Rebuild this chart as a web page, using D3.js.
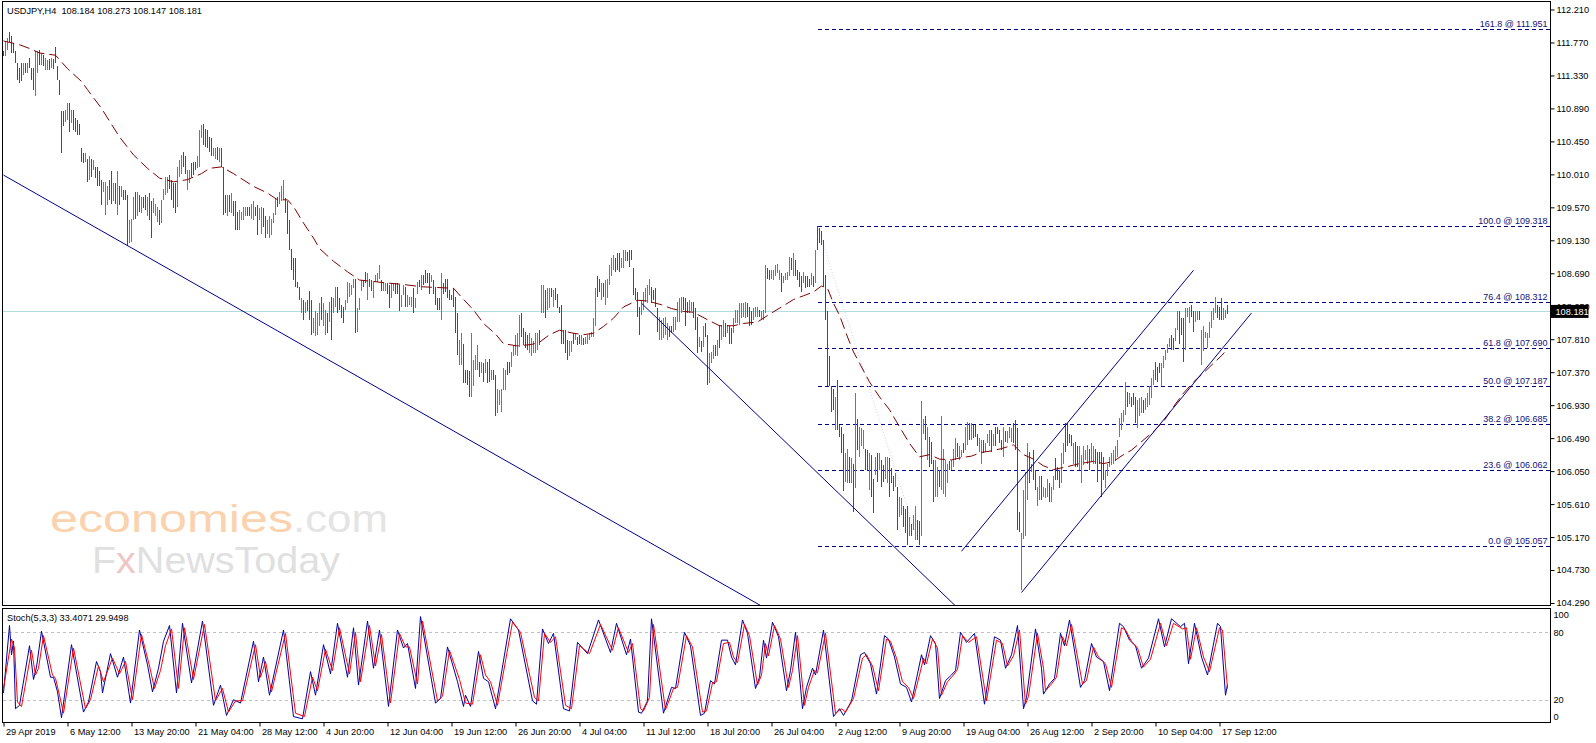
<!DOCTYPE html>
<html>
<head>
<meta charset="utf-8">
<script src="https://cdn.jsdelivr.net/npm/d3@7"></script>
<style>
  body { margin: 0; background: #fff; }
  svg text { font-family: "Liberation Sans", Arial, sans-serif; }
</style>
</head>
<body>
<svg id="chart" width="1596" height="743"></svg>
<script>
// ---- data ----
// H4 bars: [high, low] per bar, bar 0 = 29 Apr 2019 00:00
const hiLo = [
  [111.66,111.59],[111.79,111.59],[111.83,111.67],[111.91,111.78],[111.85,111.63],[111.76,111.63],[111.65,111.49],[111.49,111.27],[111.43,111.23],[111.49,111.25], // 0
  [111.49,111.34],[111.49,111.36],[111.50,111.36],[111.56,111.43],[111.43,111.27],[111.43,111.13],[111.65,111.05],[111.65,111.36],[111.67,111.47],[111.63,111.47], // 10
  [111.60,111.45],[111.56,111.40],[111.54,111.40],[111.55,111.40],[111.56,111.43],[111.55,111.41],[111.71,111.49],[111.46,111.27],[111.27,111.07],[110.86,110.29], // 20
  [110.85,110.65],[110.87,110.71],[110.96,110.74],[110.96,110.58],[110.87,110.69],[110.87,110.60],[110.76,110.58],[110.74,110.54],[110.68,110.54],[110.36,110.18], // 30
  [110.29,110.16],[110.29,110.18],[110.22,109.91],[110.25,109.94],[110.22,109.98],[110.20,110.07],[110.11,109.96],[110.11,109.85],[110.05,109.85],[109.94,109.60], // 40
  [109.91,109.78],[109.91,109.47],[109.85,109.60],[109.94,109.67],[110.05,109.62],[109.89,109.65],[109.89,109.62],[110.05,109.47],[109.85,109.60],[109.85,109.71], // 50
  [109.80,109.67],[109.80,109.67],[109.74,109.05],[109.40,109.09],[109.42,109.11],[109.71,109.40],[109.78,109.42],[109.78,109.45],[109.74,109.51],[109.71,109.49], // 60
  [109.71,109.56],[109.74,109.53],[109.71,109.45],[109.76,109.40],[109.65,109.16],[109.69,109.49],[109.62,109.45],[109.58,109.38],[109.53,109.33],[109.67,109.36], // 70
  [109.82,109.67],[109.98,109.74],[109.98,109.76],[110.00,109.82],[109.94,109.67],[109.89,109.56],[109.89,109.49],[110.11,109.58],[110.20,109.98],[110.27,110.02], // 80
  [110.31,110.11],[110.25,110.02],[110.07,109.80],[110.07,109.89],[110.16,109.98],[110.18,110.00],[110.18,110.07],[110.25,110.09],[110.60,110.11],[110.67,110.49], // 90
  [110.68,110.40],[110.62,110.38],[110.60,110.36],[110.51,110.31],[110.49,110.25],[110.36,110.25],[110.36,110.22],[110.38,110.20],[110.36,110.18],[110.36,110.11], // 100
  [110.11,109.47],[109.74,109.49],[109.74,109.45],[109.74,109.51],[109.76,109.49],[109.65,109.45],[109.65,109.27],[109.51,109.27],[109.53,109.27],[109.51,109.40], // 110
  [109.58,109.40],[109.58,109.45],[109.58,109.45],[109.58,109.45],[109.62,109.42],[109.65,109.40],[109.58,109.45],[109.60,109.20],[109.56,109.40],[109.58,109.22], // 120
  [109.56,109.31],[109.45,109.16],[109.40,109.22],[109.45,109.16],[109.42,109.20],[109.49,109.36],[109.69,109.47],[109.71,109.58],[109.78,109.62],[109.85,109.65], // 130
  [109.94,109.67],[109.69,109.49],[109.65,109.22],[109.40,109.00],[109.02,108.73],[108.89,108.60],[108.89,108.51],[108.58,108.49],[108.51,108.33],[108.36,108.16], // 140
  [108.33,108.07],[108.31,108.16],[108.33,108.18],[108.45,108.07],[108.33,107.87],[108.09,107.89],[108.18,107.85],[108.16,107.87],[108.29,107.98],[108.38,108.07], // 150
  [108.29,107.98],[108.20,107.87],[108.16,107.89],[108.31,108.04],[108.38,107.80],[108.36,108.16],[108.51,108.24],[108.51,108.16],[108.36,108.20],[108.27,108.09], // 160
  [108.24,108.02],[108.33,108.20],[108.58,108.29],[108.56,108.38],[108.53,108.40],[108.62,108.49],[108.62,107.89],[108.22,107.91],[108.36,108.20],[108.60,108.45], // 170
  [108.60,108.51],[108.71,108.56],[108.69,108.33],[108.62,108.51],[108.60,108.45],[108.58,108.36],[108.67,108.58],[108.69,108.58],[108.80,108.62],[108.60,108.45], // 180
  [108.56,108.45],[108.56,108.45],[108.56,108.42],[108.53,108.22],[108.56,108.36],[108.56,108.45],[108.56,108.42],[108.56,108.42],[108.53,108.18],[108.40,108.24], // 190
  [108.53,108.40],[108.51,108.24],[108.40,108.24],[108.38,108.27],[108.38,108.24],[108.49,108.16],[108.36,108.22],[108.58,108.42],[108.60,108.51],[108.67,108.47], // 200
  [108.67,108.53],[108.73,108.56],[108.69,108.56],[108.69,108.42],[108.67,108.58],[108.60,108.42],[108.51,108.27],[108.36,108.20],[108.36,108.20],[108.69,108.07], // 210
  [108.56,108.42],[108.62,108.44],[108.62,108.36],[108.47,108.33],[108.40,108.33],[108.49,108.24],[108.38,107.89],[108.16,107.60],[107.80,107.47],[107.89,107.47], // 220
  [107.75,107.22],[107.40,107.22],[107.40,107.20],[107.38,107.04],[107.89,107.04],[107.53,107.18],[107.60,107.40],[107.73,107.40],[107.51,107.31],[107.51,107.36], // 230
  [107.49,107.24],[107.55,107.36],[107.51,107.22],[107.55,107.24],[107.40,107.27],[107.40,107.27],[107.33,106.78],[107.15,106.82],[107.13,106.93],[107.15,106.84], // 240
  [107.42,107.13],[107.40,107.13],[107.51,107.33],[107.51,107.36],[107.64,107.44],[107.73,107.58],[107.87,107.60],[107.89,107.58],[108.13,107.71],[108.16,107.84], // 250
  [107.96,107.73],[107.91,107.69],[107.87,107.67],[107.89,107.62],[107.82,107.58],[107.78,107.62],[107.89,107.62],[107.89,107.67],[107.93,107.73],[108.53,108.16], // 260
  [108.53,108.16],[108.47,108.09],[108.49,108.20],[108.49,108.22],[108.49,108.38],[108.47,108.24],[108.49,108.33],[108.42,108.22],[108.24,108.16],[108.27,107.75], // 270
  [107.93,107.75],[107.93,107.62],[107.80,107.53],[107.78,107.58],[107.78,107.64],[107.89,107.75],[107.89,107.80],[107.84,107.73],[107.87,107.75],[107.87,107.73], // 280
  [107.82,107.73],[107.84,107.75],[107.87,107.75],[107.89,107.80],[107.91,107.84],[108.09,107.84],[108.49,107.98],[108.65,108.38],[108.62,108.44],[108.56,108.33], // 290
  [108.56,108.38],[108.60,108.27],[108.62,108.36],[108.80,108.53],[108.89,108.65],[108.93,108.73],[108.89,108.71],[108.96,108.73],[108.96,108.71],[108.89,108.76], // 300
  [109.00,108.76],[109.00,108.85],[108.98,108.85],[109.00,108.78],[109.00,108.87],[108.76,108.40],[108.49,108.33],[108.44,108.11],[108.24,107.87],[108.33,108.13], // 310
  [108.44,108.20],[108.49,108.31],[108.53,108.29],[108.62,108.40],[108.51,108.29],[108.47,108.33],[108.49,108.24],[108.22,107.91],[108.11,107.80],[108.07,107.80], // 320
  [108.09,107.82],[108.11,107.87],[108.02,107.80],[107.98,107.84],[107.98,107.89],[108.11,107.91],[108.11,107.93],[108.31,108.04],[108.36,108.04],[108.38,108.16], // 330
  [108.38,108.20],[108.36,107.98],[108.31,108.16],[108.33,108.16],[108.31,108.18],[108.31,108.09],[108.22,107.93],[108.11,107.62],[107.84,107.71],[107.78,107.64], // 340
  [107.98,107.71],[108.02,107.84],[107.87,107.20],[107.62,107.22],[107.64,107.49],[107.73,107.55],[107.73,107.58],[107.80,107.58],[108.00,107.69],[108.00,107.80], // 350
  [108.07,107.84],[108.02,107.84],[108.00,107.89],[107.98,107.75],[107.96,107.75],[108.09,107.89],[108.20,108.02],[108.20,108.02],[108.29,108.00],[108.29,108.09], // 360
  [108.29,108.11],[108.31,108.09],[108.29,108.11],[108.24,107.98],[108.18,108.00],[108.22,108.07],[108.24,108.11],[108.24,108.11],[108.20,108.11],[108.18,108.07], // 370
  [108.20,108.07],[108.80,108.16],[108.76,108.62],[108.73,108.60],[108.73,108.62],[108.73,108.60],[108.80,108.65],[108.82,108.69],[108.73,108.60],[108.69,108.44], // 380
  [108.65,108.56],[108.69,108.60],[108.71,108.60],[108.91,108.65],[108.89,108.73],[108.96,108.65],[108.87,108.65],[108.73,108.60],[108.71,108.51],[108.65,108.44], // 390
  [108.71,108.56],[108.65,108.49],[108.65,108.51],[108.62,108.51],[108.69,108.53],[108.65,108.51],[109.00,108.56],[109.32,109.00],[109.29,109.09],[109.25,109.07], // 400
  [109.13,108.51],[108.67,108.07],[108.18,107.18],[107.58,107.18],[107.18,106.84],[107.15,106.87],[107.04,106.60],[107.27,106.60],[106.67,106.51],[106.64,106.29], // 410
  [106.55,105.78],[106.29,105.91],[106.35,105.89],[106.24,105.89],[106.22,105.89],[106.15,105.51],[107.09,105.82],[106.75,106.33],[106.64,106.24],[106.62,106.38], // 420
  [106.60,106.35],[106.35,106.07],[106.33,106.07],[106.29,105.80],[106.27,105.71],[105.95,105.49],[106.24,106.00],[106.29,105.91],[106.29,106.07],[106.20,105.84], // 430
  [106.13,105.91],[106.24,105.95],[106.24,105.89],[106.22,105.71],[106.09,105.89],[105.98,105.78],[106.02,105.84],[105.84,105.26],[105.71,105.44],[105.69,105.47], // 440
  [105.58,105.31],[105.55,105.22],[105.58,105.06],[105.44,105.18],[105.35,105.18],[105.47,105.26],[105.58,105.13],[105.40,105.13],[105.38,105.06],[106.98,105.18], // 450
  [106.75,106.55],[106.78,106.47],[106.64,106.20],[106.51,106.11],[106.44,106.15],[106.20,105.64],[106.20,105.71],[106.11,105.71],[106.07,105.84],[106.78,105.80], // 460
  [106.35,105.75],[106.20,105.71],[106.15,105.89],[106.18,106.07],[106.20,106.07],[106.35,106.11],[106.49,106.20],[106.42,106.24],[106.38,106.20],[106.33,106.24], // 470
  [106.42,106.29],[106.64,106.33],[106.71,106.40],[106.69,106.47],[106.69,106.47],[106.67,106.49],[106.67,106.51],[106.55,106.38],[106.49,106.31],[106.47,106.15], // 480
  [106.47,106.29],[106.42,106.31],[106.55,106.42],[106.60,106.38],[106.60,106.31],[106.55,106.38],[106.64,106.38],[106.64,106.55],[106.60,106.42],[106.47,106.33], // 490
  [106.64,106.24],[106.58,106.44],[106.58,106.42],[106.64,106.49],[106.62,106.44],[106.69,106.42],[106.73,106.33],[106.62,105.27],[105.51,105.24],[105.22,104.46], // 500
  [105.80,105.15],[106.04,105.18],[106.42,105.66],[106.31,105.89],[106.15,106.04],[106.33,105.93],[106.06,105.80],[105.84,105.58],[105.98,105.66],[105.98,105.66], // 510
  [105.84,105.71],[105.82,105.69],[105.95,105.71],[105.89,105.64],[105.84,105.64],[105.98,105.80],[106.22,105.93],[106.11,105.93],[106.06,105.82],[106.29,105.89], // 520
  [106.42,106.15],[106.69,106.31],[106.69,106.38],[106.55,106.42],[106.53,106.38],[106.42,106.15],[106.44,106.11],[106.38,106.11],[106.38,106.06],[106.27,105.89], // 530
  [106.38,106.13],[106.33,106.20],[106.40,106.15],[106.35,106.06],[106.42,106.18],[106.38,106.15],[106.35,106.15],[106.31,105.91],[106.31,106.15],[106.31,105.71], // 540
  [106.24,105.93],[106.06,105.82],[106.15,105.98],[106.24,106.11],[106.29,106.13],[106.33,106.15],[106.38,106.18],[106.47,106.24],[106.76,106.51],[106.82,106.60], // 550
  [106.87,106.71],[107.24,106.80],[107.11,106.91],[107.09,106.95],[107.04,106.91],[107.09,106.93],[107.04,106.69],[107.00,106.62],[107.02,106.78],[107.04,106.82], // 560
  [107.00,106.82],[107.02,106.87],[107.09,106.91],[107.18,106.93],[107.29,107.02],[107.40,107.20],[107.51,107.27],[107.44,107.24],[107.49,107.36],[107.49,107.18], // 570
  [107.58,107.42],[107.67,107.53],[107.75,107.62],[107.82,107.71],[107.87,107.67],[107.82,107.67],[107.96,107.78],[108.18,107.93],[108.18,107.75],[108.09,107.87], // 580
  [108.09,107.51],[108.22,107.67],[108.22,108.11],[108.24,108.02],[108.27,108.11],[108.18,107.91],[108.18,108.04],[108.18,108.07],[108.18,108.07],[107.93,107.47], // 590
  [107.98,107.65],[107.91,107.82],[107.89,107.69],[108.04,107.82],[108.18,107.96],[108.22,108.07],[108.38,108.16],[108.27,108.09],[108.24,108.07],[108.36,108.07], // 600
  [108.22,108.07],[108.20,108.09],[108.273,108.147]                                                                                                                // 610
];

// u = bar closed up (blue), d = closed down (red)
const barDir = [
  "duuddddddd","ududdduudu","duududdddd","duududdddd","dudududddd","uuuddududu","ddduuududu","ddudduuudu","uuudddduuu","dduuddduuu",
  "ddddduudud","ddududdduu","uudduudduu","dduuuuuduu","uddddddddu","duddduuuud","uududuuddd","duuuuuduuu","ddudduuuud","uudduudddu",
  "uduuuduudu","dddduddddu","dddddddduu","dddduuuudu","duddudduuu","uudduuuuud","ddduuuuudu","uduududddd","ddduududdu","duuuuuuddu",
  "duuuuudddu","uudddddddu","uuuudddduu","uuudduuuuu","ddduudddud","udduuududu","ududduuuuu","uuddduuudu","uudduuuuud","uuuududddd",
  "udddududdd","dddddduddd","duudududuu","udduddudud","duuddduduu","ddduduuddu","ududdduudu","uuuduuuduu","duududdduu","duuududddd",
  "uduuuddddu","uuududduud","uuuduudddu","uddddudduu","uuuduudddd","duuuuuuuuu","uududdduuu","duuuuudddu","uuuudduudd","duuudduudu",
  "uuuuuuuddd","uud"
].join("");

// moving average (dashed maroon), [bar, price]
const maPoints = [
  [0,111.79],[8,111.74],[13,111.69],[18,111.63],[26,111.60],[32,111.42],[39,111.25],[42,111.14],[49,110.89],[58,110.51],
  [65,110.27],[72,110.09],[78,109.96],[85,109.91],[92,109.94],[99,110.02],[103,110.09],[109,110.11],[115,110.02],[125,109.85],
  [132,109.76],[137,109.67],[142,109.67],[145,109.58],[150,109.36],[155,109.16],[158,109.02],[165,108.85],[172,108.71],[178,108.60],
  [185,108.58],[192,108.56],[200,108.54],[209,108.51],[217,108.50],[225,108.49],[228,108.40],[235,108.20],[240,108.02],[246,107.88],
  [250,107.75],[257,107.72],[264,107.74],[268,107.77],[273,107.87],[278,107.93],[285,107.89],[290,107.87],[295,107.89],[300,107.98],
  [305,108.09],[310,108.24],[317,108.33],[322,108.32],[329,108.27],[334,108.22],[340,108.18],[345,108.17],[352,108.07],[358,107.99],
  [365,107.99],[370,108.02],[377,108.04],[384,108.16],[389,108.24],[395,108.34],[400,108.39],[405,108.44],[409,108.52],[412,108.49],
  [415,108.29],[418,108.13],[422,107.84],[425,107.64],[428,107.49],[433,107.24],[438,107.04],[443,106.87],[448,106.64],[453,106.42],
  [458,106.24],[463,106.27],[468,106.21],[474,106.20],[479,106.23],[484,106.25],[489,106.30],[494,106.32],[499,106.35],[505,106.40],
  [510,106.27],[515,106.21],[520,106.12],[525,106.07],[532,106.11],[538,106.15],[545,106.18],[550,106.15],[555,106.18],[560,106.27],
  [564,106.33],[568,106.42],[575,106.58],[580,106.71],[585,106.91],[590,107.09],[595,107.24],[600,107.36],[605,107.49],[609,107.59],
  [612,107.68]
];

// Stoch(5,3,3) main line %K, [bar, value]
const stochK = [
  [0,26],[3,86],[4,60],[5,72],[6,12],[8,15],[13,68],[15,38],[16.5,49],[19,81],[23.5,40],[25,40],[27,27],[29,4],[34,69],[40,9],
  [42.5,18],[46.5,54],[48.5,45],[49.5,26],[53.5,61],[57,40],[60,58],[63.5,17],[68,82],[72,51],[74.5,27],[77.5,48],[80,72],[83,86],
  [86.5,26],[89.5,88],[94,35],[99.5,90],[105,15],[108.5,33],[111.5,6],[115,20],[118.5,17],[125,72],[127.5,36],[130,58],[133,24],
  [140,82],[145,5],[149.5,3],[153.5,45],[156,24],[160,69],[163.5,43],[167,88],[172,40],[175,84],[177.5,33],[182,90],[185,48],
  [188,82],[192.5,14],[197,82],[200,66],[202,70],[206,30],[208.5,94],[216,17],[218.5,21],[222,67],[227,36],[230,14],[231,24],
  [233.5,14],[237.5,63],[240,39],[242.5,36],[246,12],[253.5,92],[257.5,82],[264.5,19],[266.5,16],[269.5,83],[272.5,70],[275,79],
  [280,12],[283,10],[287,71],[292,61],[297.5,91],[303.5,62],[306.5,88],[311.5,60],[313.5,74],[317.5,9],[319,8],[322,19],[324,92],
  [330,8],[334,31],[336,30],[340.5,80],[343.5,68],[348.5,6],[350.5,8],[353.5,37],[355.5,34],[359,73],[362,73],[364,58],[366,51],
  [369.5,91],[372,79],[376,30],[378,40],[380,73],[381.5,57],[384.5,89],[387.5,76],[391.5,28],[393.5,46],[396,80],[399.5,12],
  [401.5,31],[404.5,48],[406,42],[410,82],[415,5],[418,12],[420,6],[424,19],[428.5,60],[430.5,62],[433.5,52],[436.5,25],[440.5,77],
  [442.5,74],[445.5,58],[448.5,34],[451.5,31],[454,18],[457,43],[459,60],[460.5,51],[463.5,77],[466,70],[468,21],[471,37],[474,42],
  [476,46],[478.5,80],[481.5,71],[485.5,79],[490.5,16],[495.5,76],[498.5,73],[501,48],[504,60],[507,86],[510,12],[511.5,22],
  [516,83],[519,48],[520,25],[523,34],[525.5,39],[528.5,79],[530.5,68],[533,91],[538.5,31],[540.5,37],[544,70],[546.5,58],[550,54],
  [553,28],[558,88],[560,85],[563,73],[566,68],[569,48],[572.5,57],[577.5,92],[580.5,67],[584,92],[588.5,85],[590.5,88],[592.5,52],
  [595.5,88],[599,58],[602,42],[607,88],[608.5,85],[611,24],[612,33.4071]
];

// signal line %D (red), [bar, value]
const stochD = [
  [0,30],[4,74],[5.5,66],[7,18],[9,14],[14,64],[16,42],[17.5,48],[20,77],[24.5,42],[26,39],[28,24],[30,8],[35,66],[41,12],
  [43.5,20],[47.5,50],[50,36],[54.5,57],[58,43],[61,54],[64.5,20],[69,78],[73,50],[75.5,30],[78.5,46],[81,68],[84,83],[87.5,30],
  [90.5,84],[95,38],[100.5,87],[106,19],[109.5,30],[112.5,9],[116,19],[119.5,19],[126,69],[128.5,40],[131,54],[134,27],[141,79],
  [146,8],[150.5,5],[154.5,40],[157,28],[161,65],[164.5,46],[168,84],[173,43],[176,80],[178.5,36],[183,86],[186,50],[189,78],
  [193.5,17],[198,79],[201,67],[203,67],[207,34],[209.5,90],[217,19],[219.5,23],[223,64],[228,38],[231,17],[234.5,16],[238.5,60],
  [241,42],[243.5,36],[247,15],[254.5,89],[258.5,80],[265.5,22],[267.5,19],[270.5,79],[273.5,71],[276,76],[281,15],[284,12],
  [288,68],[293,61],[298.5,87],[304.5,64],[307.5,84],[312.5,62],[314.5,70],[318.5,12],[320,10],[323,22],[325,87],[331,11],[335,30],
  [337,31],[341.5,77],[344.5,67],[349.5,9],[351.5,10],[354.5,35],[356.5,36],[360,70],[363,71],[365,58],[367,53],[370.5,87],[373,77],
  [377,33],[379,42],[381,70],[382.5,59],[385.5,86],[388.5,74],[392.5,31],[394.5,46],[397,77],[400.5,15],[402.5,31],[405.5,46],
  [407,44],[411,79],[416,8],[419,12],[421,9],[425,21],[429.5,57],[431.5,60],[434.5,50],[437.5,28],[441.5,74],[443.5,72],[446.5,57],
  [449.5,36],[452.5,31],[455,21],[458,42],[460,57],[461.5,52],[464.5,74],[467,66],[469,24],[472,36],[475,42],[477,47],[479.5,77],
  [482.5,71],[486.5,76],[491.5,19],[496.5,73],[499.5,70],[502,50],[505,59],[508,82],[511,16],[512.5,23],[517,79],[520,48],[521,28],
  [524,34],[526.5,40],[529.5,76],[531.5,68],[534,87],[539.5,34],[541.5,37],[545,67],[547.5,58],[551,52],[554,31],[559,84],[561,82],
  [564,72],[567,66],[570,49],[573.5,56],[578.5,88],[581.5,68],[585,88],[589.5,83],[591.5,84],[593.5,56],[596.5,84],[600,58],
  [603,45],[608,84],[609.5,82],[612,29.9498]
];

// price axis ticks
const priceTicks = [112.21,111.77,111.33,110.89,110.45,110.01,109.57,109.13,108.69,108.25,
                    107.81,107.37,106.93,106.49,106.05,105.61,105.17,104.73,104.29];
const stochLevels = [20, 80];
const stochLabels = [100, 80, 20, 0];

// time axis labels, one every 32 bars
const timeLabels = ["29 Apr 2019","6 May 12:00","13 May 20:00","21 May 04:00","28 May 12:00","4 Jun 20:00",
  "12 Jun 04:00","19 Jun 12:00","26 Jun 20:00","4 Jul 04:00","11 Jul 12:00","18 Jul 20:00","26 Jul 04:00",
  "2 Aug 12:00","9 Aug 20:00","19 Aug 04:00","26 Aug 12:00","2 Sep 20:00","10 Sep 04:00","17 Sep 12:00"];

// Fibonacci retracement from the 1 Aug high to the 26 Aug low
const fibLevels = [0.0, 23.6, 38.2, 50.0, 61.8, 76.4, 100.0, 161.8];
const fibPrices = [105.057, 106.062, 106.685, 107.187, 107.690, 108.312, 109.318, 111.951];
const fibHigh = [407, 109.318];
const fibLow = [458, 105.057];

// trend lines, [bar, price] anchors
const trendLines = [
  { a: [0, 110.00], b: [145, 107.80], ray: true },
  { a: [319, 108.29], b: [450, 104.92], ray: true },
  { a: [479, 104.98], b: [595, 108.73], ray: false },
  { a: [509, 104.43], b: [624, 108.16], ray: false }
];

const lastPrice = 108.181;
const headerText = "USDJPY,H4  108.184 108.273 108.147 108.181";
const stochText = "Stoch(5,3,3) 33.4071 29.9498";

// ---- layout ----
const main = { left: 2.5, right: 1550.5, top: 1.5, bottom: 605.5 };
const sub = { left: 2.5, right: 1550.5, top: 608.5, bottom: 722.5 };
const upColor = "#4682b4", downColor = "#ff0000";
const fibColor = "#00008b", trendColor = "#00008b";

const svg = d3.select("#chart");

const x = d3.scaleLinear().domain([0, 612]).range([3.5, 1227.5]);
const y = d3.scaleLinear().domain([104.29, 112.21]).range([603.0, 9.5]);
const ys = d3.scaleLinear().domain([0, 100]).range([722.2, 609.8]);

const defs = svg.append("defs");
defs.append("clipPath").attr("id", "clipMain").append("rect")
  .attr("x", main.left).attr("y", main.top)
  .attr("width", main.right - main.left).attr("height", main.bottom - main.top);
defs.append("clipPath").attr("id", "clipSub").append("rect")
  .attr("x", sub.left).attr("y", sub.top)
  .attr("width", sub.right - sub.left).attr("height", sub.bottom - sub.top);

// watermark first so everything sits above it
const wm = svg.append("g").style("font-family", "'Open Sans', 'Liberation Sans', sans-serif");
wm.append("text")
  .attr("x", 50).attr("y", 531.5)
  .attr("font-size", 38)
  .attr("textLength", 243).attr("lengthAdjust", "spacingAndGlyphs")
  .attr("fill", "#fbd2ae")
  .text("economies");
wm.append("text")
  .attr("x", 293).attr("y", 531.5)
  .attr("font-size", 38)
  .attr("textLength", 95).attr("lengthAdjust", "spacingAndGlyphs")
  .attr("fill", "#e4e4e4")
  .text(".com");
const fx = wm.append("text")
  .attr("x", 92).attr("y", 573)
  .attr("font-size", 36)
  .attr("textLength", 248).attr("lengthAdjust", "spacingAndGlyphs")
  .attr("fill", "#e0e0e0");
fx.append("tspan").text("F");
fx.append("tspan").attr("fill", "#efc6c6").text("x");
fx.append("tspan").text("NewsToday");

// ---- main panel ----
const gMain = svg.append("g").attr("clip-path", "url(#clipMain)");

// current price line
gMain.append("line")
  .attr("x1", main.left).attr("x2", main.right)
  .attr("y1", Math.round(y(lastPrice)) + 0.5).attr("y2", Math.round(y(lastPrice)) + 0.5)
  .attr("stroke", "#b2dde0").attr("stroke-width", 1);

// fib level lines + labels
fibPrices.forEach(function (p, i) {
  const yy = Math.round(y(p)) + 0.5;
  gMain.append("line")
    .attr("x1", x(fibHigh[0])).attr("x2", main.right)
    .attr("y1", yy).attr("y2", yy)
    .attr("stroke", fibColor).attr("stroke-width", 1)
    .attr("stroke-dasharray", "4,3")
    .attr("shape-rendering", "crispEdges");
  gMain.append("text")
    .attr("x", main.right - 3).attr("y", yy - 2.5)
    .attr("text-anchor", "end")
    .attr("font-size", "9px")
    .attr("fill", "#10107a")
    .text(fibLevels[i].toFixed(1) + " @ " + p.toFixed(3));
});

// fib anchor line (dotted)
gMain.append("line")
  .attr("x1", x(fibHigh[0])).attr("y1", y(fibHigh[1]))
  .attr("x2", x(fibLow[0])).attr("y2", y(fibLow[1]))
  .attr("stroke", "#d4ccf0").attr("stroke-width", 1)
  .attr("stroke-dasharray", "1,2");

// bars
gMain.append("g")
  .attr("shape-rendering", "crispEdges")
  .selectAll("line")
  .data(hiLo)
  .join("line")
  .attr("x1", (d, i) => x(i)).attr("x2", (d, i) => x(i))
  .attr("y1", d => Math.round(y(d[0])))
  .attr("y2", d => Math.max(Math.round(y(d[1])), Math.round(y(d[0])) + 1))
  .attr("stroke", (d, i) => barDir[i] === "u" ? upColor : downColor)
  .attr("stroke-width", 1);

// moving average
gMain.append("path")
  .datum(maPoints)
  .attr("fill", "none")
  .attr("stroke", "#800000")
  .attr("stroke-width", 1)
  .attr("stroke-dasharray", "11,5")
  .attr("d", d3.line().x(d => x(d[0])).y(d => y(d[1])));

// trend lines
trendLines.forEach(function (t) {
  let end = t.b;
  if (t.ray) {
    const slope = (t.b[1] - t.a[1]) / (t.b[0] - t.a[0]);
    end = [1200, t.a[1] + slope * (1200 - t.a[0])];
  }
  gMain.append("line")
    .attr("x1", x(t.a[0])).attr("y1", y(t.a[1]))
    .attr("x2", x(end[0])).attr("y2", y(end[1]))
    .attr("stroke", trendColor).attr("stroke-width", 1);
});

// header text
svg.append("text")
  .attr("x", 7).attr("y", 14)
  .attr("font-size", "9.2px")
  .style("white-space", "pre")
  .attr("fill", "#000")
  .text(headerText);

// price axis on the right (108.250 sits behind the price tag, as in the terminal)
const yAxis = svg.append("g")
  .attr("transform", "translate(" + main.right + ",0)")
  .call(d3.axisRight(y).tickValues(priceTicks).tickSize(4).tickFormat(d3.format(".3f")));
yAxis.select(".domain").remove();
yAxis.selectAll("text").attr("font-size", "9.2px").attr("fill", "#000").attr("x", 6);
yAxis.selectAll("line").attr("stroke", "#000");

// current price tag
svg.append("rect")
  .attr("x", main.right).attr("y", y(lastPrice) - 6.5)
  .attr("width", 38).attr("height", 13)
  .attr("fill", "#000");
svg.append("text")
  .attr("x", main.right + 5).attr("y", y(lastPrice) + 3.5)
  .attr("font-size", "9.2px").attr("fill", "#fff")
  .text(lastPrice.toFixed(3));

// panel borders
svg.append("rect")
  .attr("x", main.left).attr("y", main.top)
  .attr("width", main.right - main.left).attr("height", main.bottom - main.top)
  .attr("fill", "none").attr("stroke", "#000").attr("shape-rendering", "crispEdges");

// ---- stochastic panel ----
const gSub = svg.append("g").attr("clip-path", "url(#clipSub)");

stochLevels.forEach(function (v) {
  const yy = Math.round(ys(v)) + 0.5;
  gSub.append("line")
    .attr("x1", sub.left).attr("x2", sub.right)
    .attr("y1", yy).attr("y2", yy)
    .attr("stroke", "#c0c0c0").attr("stroke-dasharray", "3,3")
    .attr("shape-rendering", "crispEdges");
});

const stochLine = d3.line().x(d => x(d[0])).y(d => ys(d[1]));

gSub.append("path")
  .datum(stochK)
  .attr("fill", "none")
  .attr("stroke", "#0000a0")
  .attr("stroke-width", 1)
  .attr("d", stochLine);

gSub.append("path")
  .datum(stochD)
  .attr("fill", "none")
  .attr("stroke", "#ff0000")
  .attr("stroke-width", 1)
  .attr("d", stochLine);

svg.append("text")
  .attr("x", 7).attr("y", 621)
  .attr("font-size", "9.2px").attr("fill", "#000")
  .text(stochText);

// stoch scale labels (100 and 0 pulled inside the panel)
stochLabels.forEach(function (v) {
  let yy = ys(v);
  if (v === 100) yy += 5;
  if (v === 0) yy -= 6;
  svg.append("text")
    .attr("x", sub.right + 3).attr("y", yy + 3.3)
    .attr("font-size", "9.2px").attr("fill", "#000")
    .text(v);
});

svg.append("rect")
  .attr("x", sub.left).attr("y", sub.top)
  .attr("width", sub.right - sub.left).attr("height", sub.bottom - sub.top)
  .attr("fill", "none").attr("stroke", "#000").attr("shape-rendering", "crispEdges");

// time axis
const timeTicks = timeLabels.map((d, k) => k * 32);
const xAxis = svg.append("g")
  .attr("transform", "translate(0," + sub.bottom + ")")
  .call(d3.axisBottom(x).tickValues(timeTicks).tickSize(4).tickFormat((d, k) => timeLabels[k]));
xAxis.select(".domain").remove();
xAxis.selectAll("line").attr("stroke", "#000");
xAxis.selectAll("text")
  .attr("font-size", "9.2px").attr("fill", "#000")
  .attr("text-anchor", "start").attr("x", 2).attr("y", 6);

if (hiLo.length !== barDir.length) console.log("bar count mismatch", hiLo.length, barDir.length);
</script>
</body>
</html>
